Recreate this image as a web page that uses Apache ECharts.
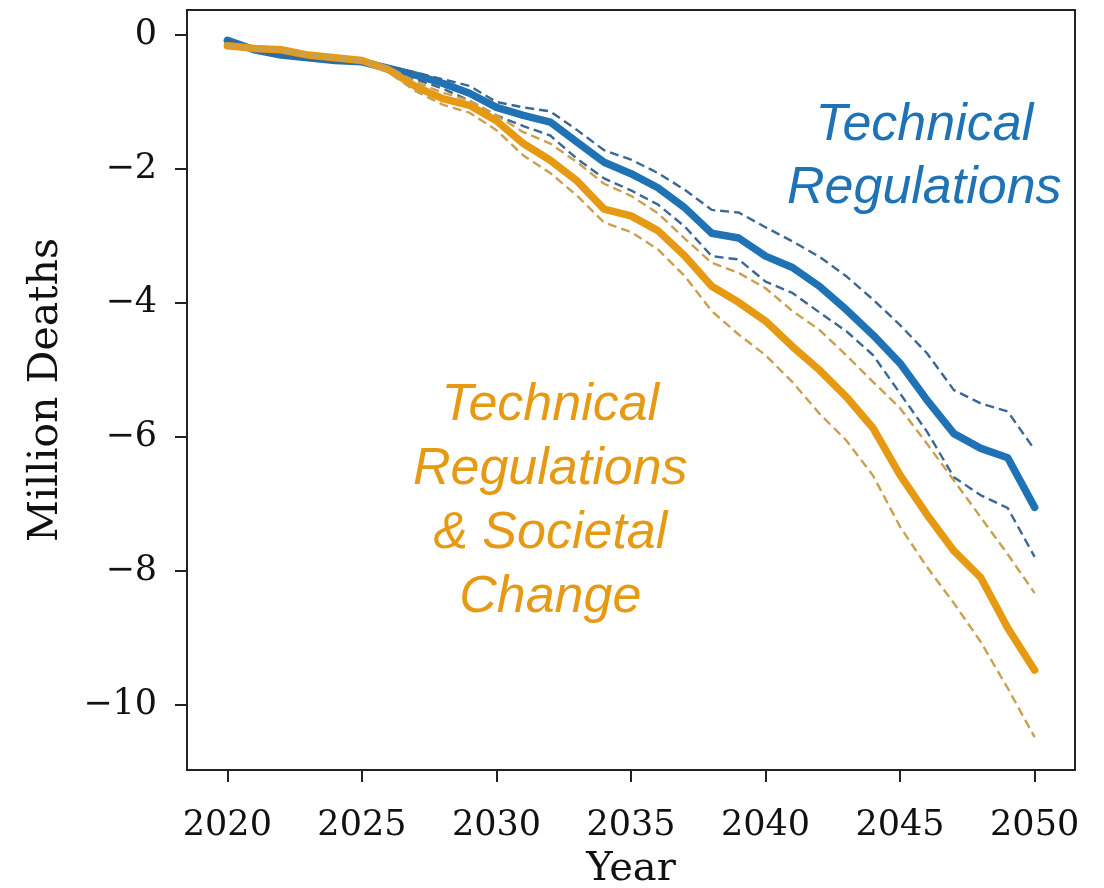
<!DOCTYPE html>
<html>
<head>
<meta charset="utf-8">
<script src="https://cdn.jsdelivr.net/npm/echarts@6/dist/echarts.min.js"></script>
<style>html,body{margin:0;padding:0;background:#fff}#c{width:1104px;height:888px}</style>
</head>
<body>
<div id="c"></div>
<script>
var years = [];
for (var y = 2020; y <= 2050; y++) years.push(y);

var techMain = [-0.08,-0.22,-0.3,-0.34,-0.38,-0.4,-0.5,-0.6,-0.72,-0.87,-1.08,-1.2,-1.3,-1.6,-1.9,-2.07,-2.28,-2.58,-2.96,-3.03,-3.3,-3.47,-3.75,-4.1,-4.48,-4.9,-5.45,-5.95,-6.17,-6.31,-7.05];
var techUpper = [-0.07,-0.2,-0.27,-0.32,-0.36,-0.38,-0.47,-0.56,-0.66,-0.76,-1.0,-1.08,-1.14,-1.42,-1.72,-1.86,-2.06,-2.31,-2.61,-2.65,-2.87,-3.08,-3.31,-3.6,-3.95,-4.33,-4.75,-5.3,-5.5,-5.62,-6.19];
var techLower = [-0.09,-0.24,-0.33,-0.36,-0.4,-0.42,-0.54,-0.66,-0.8,-0.98,-1.2,-1.36,-1.5,-1.85,-2.14,-2.32,-2.53,-2.86,-3.3,-3.35,-3.68,-3.85,-4.14,-4.42,-4.78,-5.35,-5.92,-6.6,-6.87,-7.06,-7.79];
var socMain = [-0.16,-0.2,-0.22,-0.3,-0.34,-0.38,-0.52,-0.77,-0.95,-1.05,-1.28,-1.62,-1.87,-2.18,-2.6,-2.7,-2.92,-3.3,-3.75,-3.99,-4.27,-4.65,-5.0,-5.4,-5.87,-6.57,-7.16,-7.7,-8.1,-8.85,-9.48];
var socUpper = [-0.15,-0.19,-0.21,-0.28,-0.32,-0.36,-0.48,-0.7,-0.86,-0.98,-1.2,-1.45,-1.62,-1.9,-2.22,-2.4,-2.66,-3.04,-3.4,-3.55,-3.78,-4.12,-4.4,-4.78,-5.18,-5.57,-6.1,-6.65,-7.2,-7.75,-8.33];
var socLower = [-0.17,-0.21,-0.24,-0.32,-0.36,-0.4,-0.56,-0.84,-1.04,-1.16,-1.42,-1.8,-2.06,-2.4,-2.8,-2.94,-3.2,-3.6,-4.12,-4.47,-4.78,-5.18,-5.65,-6.05,-6.58,-7.34,-7.94,-8.48,-9.06,-9.75,-10.48];

var xTicks = [2020, 2025, 2030, 2035, 2040, 2045, 2050];
var yTicks = [0, -2, -4, -6, -8, -10];

var blue = '#1f72b4', orange = '#e69a14';
var blueDash = '#3b6792', orangeDash = '#c9a052';

function pairs(v) { return years.map(function (yr, i) { return [yr, v[i]]; }); }
function line(name, v, color, width, dashed) {
  return {
    name: name, type: 'line', data: pairs(v), symbol: 'none', smooth: false,
    lineStyle: { color: color, width: width, type: dashed ? [9, 5] : 'solid', cap: dashed ? 'butt' : 'round', join: 'round' },
    silent: true, animation: false
  };
}

var chart = echarts.init(document.getElementById('c'), null, { renderer: 'canvas' });
var axisFont = 'DejaVu Serif';
chart.setOption({
  animation: false,
  grid: { left: 187, top: 10, right: 29, bottom: 118, show: true, borderColor: '#222', borderWidth: 2,
    containLabel: false, outerBoundsMode: 'none' },
  xAxis: {
    type: 'value', min: 2018.5, max: 2051.5,
    name: 'Year', nameLocation: 'middle', nameGap: 80,
    nameTextStyle: { fontFamily: axisFont, fontSize: 40, color: '#111' },
    axisLine: { show: true, onZero: false, lineStyle: { color: '#222', width: 2 } },
    axisTick: { show: true, inside: false, length: 12, lineStyle: { color: '#222', width: 2 }, customValues: xTicks },
    axisLabel: { fontFamily: axisFont, fontSize: 35, color: '#111', margin: 38, customValues: xTicks, formatter: function (v) { return String(v); } },
    splitLine: { show: false }
  },
  yAxis: {
    type: 'value', min: -10.97, max: 0.373,
    name: 'Million Deaths', nameLocation: 'middle', nameGap: 120, nameRotate: 90,
    nameTextStyle: { fontFamily: axisFont, fontSize: 41, color: '#111' },
    axisLine: { show: true, onZero: false, lineStyle: { color: '#222', width: 2 } },
    axisTick: { show: true, inside: false, length: 12, lineStyle: { color: '#222', width: 2 }, customValues: yTicks },
    axisLabel: { fontFamily: axisFont, fontSize: 35, color: '#111', margin: 30, customValues: yTicks,
      formatter: function (v) { return v < 0 ? '\u2212' + Math.abs(v) : String(v); } },
    splitLine: { show: false }
  },
  series: [
    line('Technical Regulations', techMain, blue, 7.5, false),
    line('Technical Regulations upper', techUpper, blueDash, 2.4, true),
    line('Technical Regulations lower', techLower, blueDash, 2.4, true),
    line('Technical Regulations & Societal Change', socMain, orange, 7.5, false),
    line('Societal upper', socUpper, orangeDash, 2.4, true),
    line('Societal lower', socLower, orangeDash, 2.4, true)
  ]
});

var pBlue = chart.convertToPixel({ gridIndex: 0 }, [2045.9, -1.82]);
var pOrange = chart.convertToPixel({ gridIndex: 0 }, [2032.0, -6.96]);
chart.setOption({
  graphic: [
    { type: 'text', x: pBlue[0], y: pBlue[1], silent: true,
      style: { text: 'Technical\nRegulations', fill: blue, font: 'italic 52px "Liberation Sans", Arial, sans-serif',
        align: 'center', verticalAlign: 'middle', lineHeight: 63 } },
    { type: 'text', x: pOrange[0], y: pOrange[1], silent: true,
      style: { text: 'Technical\nRegulations\n& Societal\nChange', fill: orange, font: 'italic 52px "Liberation Sans", Arial, sans-serif',
        align: 'center', verticalAlign: 'middle', lineHeight: 64 } }
  ]
});
</script>
</body>
</html>
